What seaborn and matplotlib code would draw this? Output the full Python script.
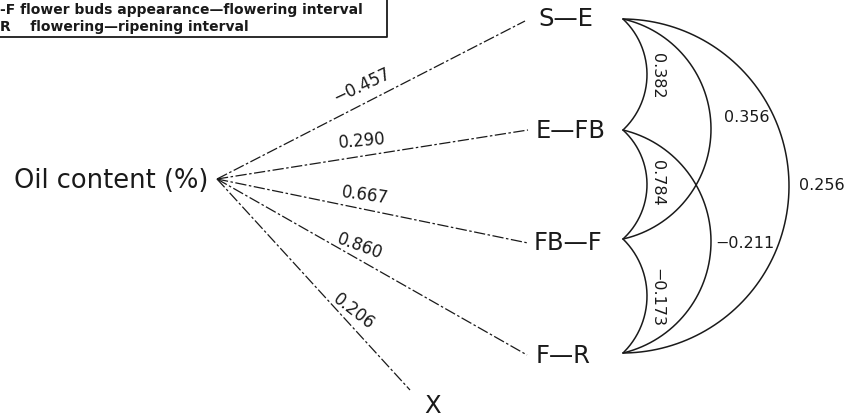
import numpy as np
import pandas as pd
import matplotlib.pyplot as plt
import seaborn as sns

# path coefficients from oil content to each interval
paths = ['S-E', 'E-FB', 'FB-F', 'F-R', 'X']
path_coef = ['\u22120.457', '0.290', '0.667', '0.860', '0.206']

# correlations between intervals (pairs by index into the first four paths)
pair_from = [0, 1, 2, 0, 1, 0]
pair_to = [1, 2, 3, 2, 3, 3]
pair_corr = ['0.382', '0.784', '\u22120.173', '0.356', '\u22120.211', '0.256']

legend_lines = ['-F flower buds appearance\u2014flowering interval',
                'R    flowering\u2014ripening interval']

sns.set_theme(style='white')
plt.rcParams['font.family'] = ['DejaVu Sans']

fig = plt.figure(figsize=(8.47, 4.17), dpi=100)
ax = fig.add_axes([0, 0, 1, 1])
ax.set_xlim(0, 847)
ax.set_ylim(417, 0)
ax.axis('off')

# layout (pixel space)
hub = (217, 179)
line_end = [(525, 21), (528, 130), (528, 243), (527, 355), (410, 390)]
label_pos = [(538, 19), (536, 131), (534, 243), (536, 356), (433, 406)]
coef_pos = [(362, 86), (362, 141), (365, 195), (360, 246), (354, 312)]
coef_rot = [25, 5, -8, -20, -38]
node_x = 623
node_y = [19, 130, 239, 353]
arc_bulge = {1: 24, 2: 88, 3: 166}
corr_pos = [(657, 76), (657, 183), (657, 298), (747, 117), (745, 243), (822, 185)]
corr_rot = [270, 270, 270, 0, 0, 0]

ink = '#1a1a1a'

# lines from oil content to each interval
for i, name in enumerate(paths):
    x1, y1 = line_end[i]
    df = pd.DataFrame({'x': [hub[0], x1], 'y': [hub[1], y1]})
    sns.lineplot(data=df, x='x', y='y', ax=ax, sort=False, estimator=None,
                 color=ink, lw=0.9, linestyle=(0, (9, 2, 2, 2)))
    lx, ly = label_pos[i]
    ha = 'center' if name == 'X' else 'left'
    ax.text(lx, ly, name.replace('-', '\u2014'), fontsize=17.5, ha=ha,
            va='center', color=ink)
    cx, cy = coef_pos[i]
    ax.text(cx, cy, path_coef[i], fontsize=12, ha='center', va='center',
            rotation=coef_rot[i], rotation_mode='anchor', color=ink)

ax.text(208, 181, 'Oil content (%)', fontsize=18.5, ha='right', va='center',
        color=ink)

# arcs of correlations between intervals
for k in range(len(pair_corr)):
    ya, yb = node_y[pair_from[k]], node_y[pair_to[k]]
    s = arc_bulge[pair_to[k] - pair_from[k]]
    h = (yb - ya) / 2
    r = (h ** 2 + s ** 2) / (2 * s)
    cx0 = node_x + s - r
    cy0 = (ya + yb) / 2
    th = np.arcsin(min(h / r, 1.0))
    t = np.linspace(-th, th, 200)
    arc = pd.DataFrame({'x': cx0 + r * np.cos(t), 'y': cy0 + r * np.sin(t)})
    sns.lineplot(data=arc, x='x', y='y', ax=ax, sort=False, estimator=None,
                 color=ink, lw=1.1)
    px, py = corr_pos[k]
    ax.text(px, py, pair_corr[k], fontsize=11.5, ha='center', va='center',
            rotation=corr_rot[k], color=ink)

# legend box (partly cut off at the left edge)
ax.plot([0, 387, 387], [37, 37, 0], color=ink, lw=1.3)
ax.text(0, 10, legend_lines[0], fontsize=10, fontweight='bold', ha='left',
        va='center', color=ink)
ax.text(0, 27, legend_lines[1], fontsize=10, fontweight='bold', ha='left',
        va='center', color=ink)

fig.savefig('out.png', dpi=100)
